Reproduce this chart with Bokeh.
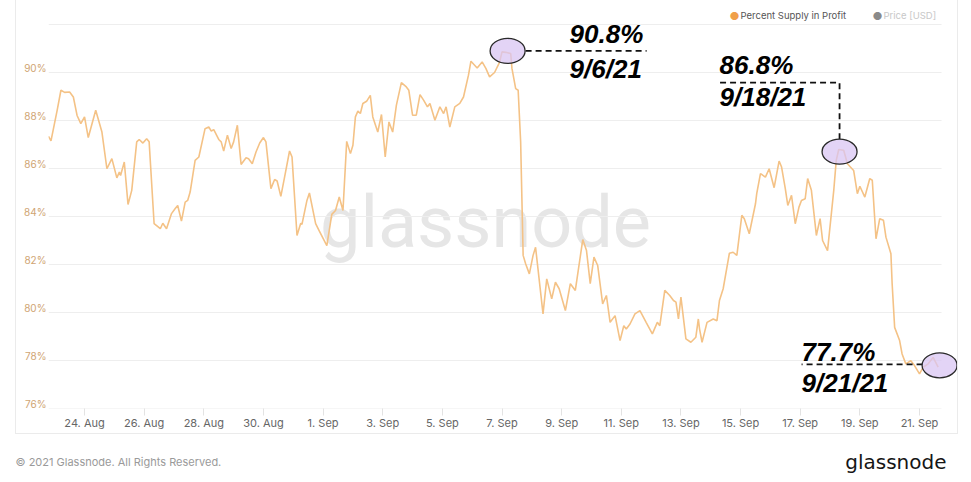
import pandas as pd
from bokeh.plotting import figure
from bokeh.layouts import column
from bokeh.models import Range1d, LinearAxis, FixedTicker, Label
from bokeh.embed import file_html
from bokeh.resources import INLINE

# ---------------- data ----------------
times = [
    "08-22 19", "08-22 21", "08-23 02", "08-23 05", "08-23 08", "08-23 12", "08-23 15", "08-23 18",
    "08-23 21", "08-24 00", "08-24 03", "08-24 09", "08-24 14", "08-24 18", "08-24 22", "08-25 02",
    "08-25 04", "08-25 05", "08-25 08", "08-25 11", "08-25 14", "08-25 18", "08-25 20", "08-25 23",
    "08-26 02", "08-26 04", "08-26 08", "08-26 13", "08-26 15", "08-26 18", "08-26 22", "08-27 01",
    "08-27 03", "08-27 06", "08-27 09", "08-27 11", "08-27 13", "08-27 17", "08-27 20", "08-28 01",
    "08-28 04", "08-28 06", "08-28 08", "08-28 12", "08-28 14", "08-28 16", "08-28 19", "08-28 22",
    "08-29 00", "08-29 03", "08-29 06", "08-29 10", "08-29 12", "08-29 15", "08-29 18", "08-29 21",
    "08-30 00", "08-30 02", "08-30 06", "08-30 09", "08-30 11", "08-30 14", "08-30 17", "08-30 21",
    "08-30 23", "08-31 03", "08-31 06", "08-31 07", "08-31 11", "08-31 13", "08-31 18", "08-31 21",
    "09-01 03", "09-01 07", "09-01 10", "09-01 13", "09-01 16", "09-01 19", "09-01 22", "09-02 00",
    "09-02 02", "09-02 04", "09-02 06", "09-02 08", "09-02 11", "09-02 14", "09-02 16", "09-02 20",
    "09-02 23", "09-03 02", "09-03 05", "09-03 08", "09-03 11", "09-03 15", "09-03 19", "09-03 21",
    "09-04 00", "09-04 03", "09-04 06", "09-04 09", "09-04 12", "09-04 14", "09-04 18", "09-04 22",
    "09-05 01", "09-05 03", "09-05 06", "09-05 10", "09-05 14", "09-05 17", "09-05 21", "09-05 23",
    "09-06 04", "09-06 08", "09-06 11", "09-06 14", "09-06 18", "09-06 22", "09-07 00", "09-07 03",
    "09-07 07", "09-07 08", "09-07 11", "09-07 13", "09-07 15", "09-07 17", "09-07 19", "09-07 22",
    "09-08 01", "09-08 03", "09-08 09", "09-08 12", "09-08 16", "09-08 19", "09-08 22", "09-09 03",
    "09-09 07", "09-09 11", "09-09 17", "09-09 20", "09-09 23", "09-10 02", "09-10 05", "09-10 09",
    "09-10 12", "09-10 15", "09-10 19", "09-10 23", "09-11 02", "09-11 04", "09-11 07", "09-11 11",
    "09-11 15", "09-11 20", "09-12 01", "09-12 05", "09-12 07", "09-12 11", "09-12 15", "09-12 18",
    "09-12 20", "09-12 22", "09-13 00", "09-13 04", "09-13 08", "09-13 12", "09-13 14", "09-13 15",
    "09-13 17", "09-13 21", "09-14 02", "09-14 05", "09-14 07", "09-14 10", "09-14 15", "09-14 18",
    "09-14 21", "09-15 01", "09-15 03", "09-15 07", "09-15 12", "09-15 13", "09-15 16", "09-15 20",
    "09-15 23", "09-16 03", "09-16 07", "09-16 09", "09-16 12", "09-16 14", "09-16 17", "09-16 20",
    "09-16 23", "09-17 01", "09-17 04", "09-17 06", "09-17 09", "09-17 13", "09-17 16", "09-17 18",
    "09-17 22", "09-18 03", "09-18 05", "09-18 07", "09-18 11", "09-18 14", "09-18 19", "09-18 22",
    "09-19 00", "09-19 04", "09-19 08", "09-19 10", "09-19 13", "09-19 16", "09-19 19", "09-19 21",
    "09-20 01", "09-20 02", "09-20 04", "09-20 08", "09-20 10", "09-20 13", "09-20 17", "09-20 20",
    "09-21 00", "09-21 03", "09-21 07", "09-21 11", "09-21 15",
]
supply_in_profit = [
    87.34, 87.15, 88.43, 89.26, 89.17, 89.19, 88.98, 88.21,
    87.87, 88.15, 87.29, 88.43, 87.52, 85.99, 86.41, 85.61,
    85.85, 85.71, 86.27, 84.50, 85.09, 87.11, 87.21, 87.06,
    87.24, 87.11, 83.70, 83.49, 83.72, 83.49, 84.12, 84.33,
    84.46, 83.81, 84.60, 84.67, 85.02, 86.34, 86.48, 87.66,
    87.73, 87.56, 87.62, 87.21, 87.11, 86.73, 87.39, 86.83,
    87.11, 87.80, 86.17, 86.45, 86.41, 86.20, 86.69, 87.06,
    87.29, 87.11, 85.16, 85.54, 85.48, 84.84, 85.64, 86.73,
    86.48, 83.21, 83.72, 83.67, 84.67, 84.98, 83.70, 83.39,
    82.79, 84.09, 84.25, 84.81, 84.25, 87.13, 86.62, 86.97,
    88.15, 88.39, 88.29, 88.71, 88.80, 89.05, 88.15, 87.52,
    88.25, 86.48, 87.94, 87.52, 88.64, 89.58, 89.40, 89.26,
    88.22, 88.22, 89.08, 88.84, 88.57, 88.71, 88.01, 88.57,
    88.29, 88.57, 87.73, 88.57, 88.71, 88.98, 89.89, 90.47,
    90.19, 90.44, 90.17, 89.82, 90.00, 90.42, 90.86, 90.84,
    90.79, 90.17, 89.33, 89.26, 87.11, 82.38, 82.03, 81.61,
    82.38, 82.72, 79.94, 81.40, 80.57, 81.26, 80.99, 80.08,
    81.20, 80.92, 83.04, 82.58, 81.20, 82.31, 81.96, 80.36,
    80.71, 79.59, 79.87, 78.83, 79.45, 79.31, 79.52, 79.94,
    80.08, 79.59, 79.11, 79.59, 79.45, 80.92, 80.71, 80.50,
    80.43, 79.73, 80.64, 78.90, 78.76, 78.97, 79.73, 79.31,
    78.76, 79.59, 79.73, 79.66, 80.50, 80.99, 82.47, 82.51,
    82.38, 84.05, 83.91, 83.28, 84.53, 84.95, 85.79, 85.64,
    85.99, 85.20, 86.31, 86.06, 85.16, 84.46, 84.88, 83.70,
    84.39, 84.67, 84.74, 85.58, 85.09, 83.21, 83.91, 83.00,
    82.58, 85.09, 86.34, 86.79, 86.76, 86.20, 85.92, 84.95,
    85.26, 84.81, 85.58, 85.51, 83.07, 83.91, 83.84, 83.14,
    82.45, 81.19, 79.38, 78.83, 78.27, 77.86, 77.99, 77.79,
    77.44, 77.72, 77.86, 78.13, 77.72,
]

y_ticks = [76, 78, 80, 82, 84, 86, 88, 90]
y_tick_labels = ["76%", "78%", "80%", "82%", "84%", "86%", "88%", "90%"]
grid_values = [76, 78, 80, 82, 84, 86, 88, 90, 92]

x_tick_dates = ["2021-08-24", "2021-08-26", "2021-08-28", "2021-08-30", "2021-09-01",
                "2021-09-03", "2021-09-05", "2021-09-07", "2021-09-09", "2021-09-11",
                "2021-09-13", "2021-09-15", "2021-09-17", "2021-09-19", "2021-09-21"]
x_tick_labels = ["24. Aug", "26. Aug", "28. Aug", "30. Aug", "1. Sep", "3. Sep", "5. Sep",
                 "7. Sep", "9. Sep", "11. Sep", "13. Sep", "15. Sep", "17. Sep", "19. Sep", "21. Sep"]

ann_times = ["2021-09-07 04:30", "2021-09-18 07:40", "2021-09-21 16:10"]
ann_values = [90.9, 86.7, 77.8]
ann_pct = ["90.8%", "86.8%", "77.7%"]
ann_dates = ["9/6/21", "9/18/21", "9/21/21"]

# ---------------- layout constants (page px) ----------------
FIG_L, FIG_R, FIG_B = 15, 958, 434
FRAME_L, FRAME_R, FRAME_T, FRAME_B = 47, 958, 2, 408
PX_PER_DAY = 29.82
X0 = pd.Timestamp("2021-08-22 19:00")
X1 = X0 + pd.Timedelta(days=(FRAME_R - FRAME_L) / PX_PER_DAY)
GRID_END = pd.Timestamp("2021-09-21 17:44")
Y0 = 76
V_PER_PX = 1 / 24
Y1 = Y0 + (FRAME_B - FRAME_T) * V_PER_PX


def ms(t):
    return pd.Timestamp(t).value / 1e6


MS_PER_PX = (ms(X1) - ms(X0)) / (FRAME_R - FRAME_L)


def px_x(px):
    return ms(X0) + (px - FRAME_L) * MS_PER_PX


def px_y(py):
    return Y1 - (py - FRAME_T) * V_PER_PX


def shift(t, v, dx, dy):
    return ms(t) + dx * MS_PER_PX, v + dy * V_PER_PX


t_dt = pd.to_datetime(["2021-" + t + ":00" for t in times])

p = figure(width=FIG_R - FIG_L, height=FIG_B, x_axis_type="datetime",
           x_range=Range1d(X0, X1), y_range=Range1d(Y0, Y1),
           output_backend="svg", toolbar_location=None, y_axis_location=None,
           min_border_left=FRAME_L - FIG_L, min_border_right=FIG_R - FRAME_R,
           min_border_top=FRAME_T, min_border_bottom=FIG_B - FRAME_B)
p.frame_align = False
p.margin = (0, 0, 0, FIG_L)
p.styles = {"border-left": "1px solid #ebebeb", "border-right": "1px solid #ebebeb",
            "border-bottom": "1px solid #ebebeb", "box-sizing": "border-box"}
p.xgrid.visible = False
p.ygrid.visible = False
p.outline_line_color = None
p.background_fill_color = "white"
p.border_fill_color = "white"

# watermark
p.add_layout(Label(x=px_x(484), y=px_y(222), text="glassnode", text_align="center",
                   text_baseline="middle", text_font="Roboto", text_font_size="72px",
                   text_color="#e6e6e6", level="underlay"))

# grid
p.segment(x0=[X0] * len(grid_values), y0=grid_values, x1=[GRID_END] * len(grid_values),
          y1=grid_values, line_color="#eeeeee", line_width=1)

# main line
p.line(t_dt, supply_in_profit, line_color="#f4c286", line_width=1.6)

# annotations
dash_paths = [[(18, 0), (139, 0)],
              [(0, 12.5), (0, 69), (-120, 69)],
              [(-17, 1), (-138, 1)]]
text_off = [(62, 16.5, -18.5), (-120, 86.5, 54.5), (-138, 13.5, -17.5)]
for t, v, path in zip(ann_times, ann_values, dash_paths):
    pts = [shift(t, v, dx, dy) for dx, dy in path]
    p.line([q[0] for q in pts], [q[1] for q in pts], line_color="#111111",
           line_width=1.8, line_dash="6 4")
p.ellipse(x=pd.to_datetime(ann_times), y=ann_values, width=35, height=25,
          width_units="screen", height_units="screen", fill_color="#d9c6f3",
          fill_alpha=0.75, line_color="#2a2a2a", line_width=1.3)
for t, v, pct, d, (xo, yo1, yo2) in zip(ann_times, ann_values, ann_pct, ann_dates, text_off):
    for txt, yo in ((pct, yo1), (d, yo2)):
        p.add_layout(Label(x=ms(t), y=v, x_offset=xo, y_offset=yo, text=txt,
                           text_align="left", text_baseline="middle",
                           text_font="Liberation Sans", text_font_style="bold italic",
                           text_font_size="26px", text_color="black"))

# x axis
xax = p.xaxis[0]
x_ms = [ms(d) for d in x_tick_dates]
xax.ticker = FixedTicker(ticks=x_ms)
xax.major_label_overrides = {k: lab for k, lab in zip(x_ms, x_tick_labels)}
xax.axis_line_color = None
xax.major_tick_line_color = "#e3e3e3"
xax.major_tick_in = 0
xax.major_tick_out = 7
xax.minor_tick_line_color = None
xax.major_label_standoff = 0
xax.major_label_text_color = "#666666"
xax.major_label_text_font = "Inter"
xax.major_label_text_font_size = "11px"

# y axis (labels sit slightly above their gridlines)
p.extra_y_ranges = {"ylab": Range1d(Y0 - 5 * V_PER_PX, Y1 - 5 * V_PER_PX)}
yax = LinearAxis(y_range_name="ylab", ticker=FixedTicker(ticks=y_ticks),
                 major_label_overrides={float(k): lab for k, lab in zip(y_ticks, y_tick_labels)})
yax.axis_line_color = None
yax.major_tick_line_color = None
yax.major_tick_out = 0
yax.major_tick_in = 0
yax.minor_tick_line_color = None
yax.major_label_standoff = 2
yax.major_label_text_color = "#cfa472"
yax.major_label_text_font = "Inter"
yax.major_label_text_font_size = "10px"
p.add_layout(yax, "left")

# legend (top right)
leg = [("●", 733, "#f0a04a", "center", "11px"),
       ("Percent Supply in Profit", 739, "#555555", "left", "9.5px"),
       ("●", 876, "#8a8a8a", "center", "11px"),
       ("Price [USD]", 882, "#c8c8c8", "left", "9.5px")]
for txt, x, c, al, fs in leg:
    p.add_layout(Label(x=px_x(x), y=px_y(15), text=txt, text_align=al, text_baseline="middle",
                       text_font="Inter", text_font_size=fs, text_color=c))

# footer strip
FOOT_H = 46
f2 = figure(width=968, height=FOOT_H, x_range=Range1d(0, 968), y_range=Range1d(FOOT_H, 0),
            output_backend="svg", toolbar_location=None, x_axis_location=None,
            y_axis_location=None, min_border=0)
f2.frame_align = False
f2.grid.visible = False
f2.outline_line_color = None
f2.add_layout(Label(x=15, y=461 - FIG_B, text="© 2021 Glassnode. All Rights Reserved.",
                    text_align="left", text_baseline="middle", text_font="Inter",
                    text_font_size="11px", text_color="#9a9a9a"))
f2.add_layout(Label(x=946, y=461 - FIG_B, text="glassnode", text_align="right",
                    text_baseline="middle", text_font="DejaVu Sans",
                    text_font_size="20px", text_color="#151515"))

open("out.html", "w").write(file_html(column(p, f2), INLINE))
